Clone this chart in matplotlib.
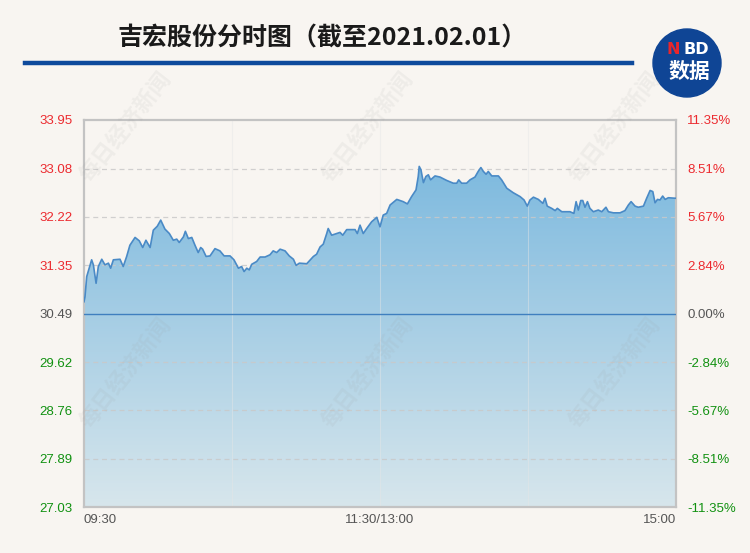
import numpy as np
import matplotlib
matplotlib.use("Agg")
import matplotlib.pyplot as plt
from matplotlib.colors import LinearSegmentedColormap
from matplotlib.patches import Ellipse
from matplotlib.lines import Line2D

# ---------------- data ----------------
title = "吉宏股份分时图（截至2021.02.01）"
prev_close = 30.49
minutes = [0, 0.4, 1.1, 3.1, 3.8, 4.9, 5.8, 7.2, 8.5, 9.9, 10.8, 11.9, 14.6, 15.9, 17.3,
           18.6, 20.7, 22.4, 23.8, 25.1, 26.8, 28.1, 29.7, 31.1, 32.8, 34.6, 36.2, 37.6,
           38.6, 40.3, 41.1, 42.3, 43.7, 45.0, 46.3, 47.3, 48.1, 49.5, 51.1, 53.1, 55.1,
           56.8, 59.2, 60.8, 62.6, 63.9, 64.9, 66.0, 67.0, 68.0, 70.0, 71.4, 73.4, 75.4,
           76.7, 78.1, 79.5, 81.5, 83.2, 84.9, 86.0, 87.3, 90.3, 93.0, 94.3, 95.7, 97.0,
           98.4, 99.0, 100.4, 102.4, 103.8, 104.9, 106.5, 109.9, 110.8, 111.9, 113.2,
           114.6, 116.6, 118.7, 120.0, 121.3, 122.7, 124.1, 126.8, 129.4, 131.1, 132.8,
           134.6, 135.5, 135.9, 136.6, 137.6, 138.6, 139.6, 140.5, 142.3, 144.3, 147.0,
           149.7, 151.1, 151.9, 153.1, 155.1, 156.5, 158.5, 159.8, 160.9, 161.9, 163.0,
           163.9, 165.3, 168.0, 169.3, 171.4, 174.0, 176.8, 178.4, 179.7, 180.8, 182.2,
           184.2, 186.0, 186.9, 187.8, 189.6, 191.0, 191.9, 193.7, 197.0, 198.6, 199.5,
           200.4, 201.4, 202.2, 203.1, 204.1, 205.1, 206.5, 208.5, 209.9, 211.6, 212.6,
           214.6, 217.3, 219.3, 220.7, 221.8, 223.4, 224.7, 226.8, 228.1, 229.5, 230.6,
           231.5, 232.5, 233.5, 234.6, 235.6, 236.9, 240.0]
prices = [30.70, 30.79, 31.15, 31.45, 31.36, 31.03, 31.33, 31.46, 31.36, 31.39, 31.30,
          31.45, 31.46, 31.33, 31.51, 31.71, 31.85, 31.79, 31.67, 31.80, 31.67, 31.98,
          32.05, 32.16, 32.00, 31.92, 31.80, 31.82, 31.76, 31.86, 31.96, 31.83, 31.85,
          31.71, 31.58, 31.67, 31.64, 31.51, 31.52, 31.65, 31.61, 31.52, 31.52, 31.45,
          31.30, 31.33, 31.24, 31.30, 31.27, 31.37, 31.42, 31.50, 31.50, 31.54, 31.61,
          31.58, 31.64, 31.61, 31.52, 31.46, 31.35, 31.39, 31.38, 31.51, 31.55, 31.68,
          31.73, 31.92, 32.01, 31.89, 31.92, 31.94, 31.89, 31.99, 31.99, 31.92, 32.07,
          31.92, 32.01, 32.13, 32.21, 32.04, 32.25, 32.28, 32.43, 32.53, 32.49, 32.45,
          32.58, 32.70, 32.94, 33.12, 33.06, 32.83, 32.94, 32.97, 32.88, 32.95, 32.93,
          32.87, 32.82, 32.82, 32.88, 32.82, 32.82, 32.88, 32.93, 33.03, 33.10, 33.03,
          32.98, 33.03, 32.95, 32.95, 32.88, 32.73, 32.65, 32.58, 32.52, 32.41, 32.52,
          32.57, 32.53, 32.46, 32.55, 32.41, 32.37, 32.33, 32.37, 32.31, 32.31, 32.28,
          32.49, 32.34, 32.51, 32.51, 32.39, 32.49, 32.37, 32.31, 32.34, 32.31, 32.39,
          32.31, 32.29, 32.29, 32.33, 32.43, 32.49, 32.41, 32.39, 32.41, 32.55, 32.69,
          32.67, 32.47, 32.53, 32.52, 32.59, 32.53, 32.56, 32.55]
price_ticks = [33.95, 33.08, 32.22, 31.35, 30.49, 29.62, 28.76, 27.89, 27.03]
price_labels = ["33.95", "33.08", "32.22", "31.35", "30.49", "29.62", "28.76", "27.89", "27.03"]
pct_labels = ["11.35%", "8.51%", "5.67%", "2.84%", "0.00%", "-2.84%", "-5.67%", "-8.51%", "-11.35%"]
x_ticks = [0, 120, 240]
x_labels = ["09:30", "11:30/13:00", "15:00"]
v_grid = [60, 120, 180]
watermark = "每日经济新闻"

# ---------------- style ----------------
BG = "#f8f5f1"
RED = "#ec2a2f"
GREEN = "#119111"
GRAY = "#555555"
plt.rcParams['font.family'] = ['Noto Sans CJK SC', 'DejaVu Sans']

W, H = 750, 553
fig = plt.figure(figsize=(7.5, 5.53), dpi=100, facecolor=BG)
ax = fig.add_axes([84 / W, 1 - 507 / H, (676 - 84) / W, (507 - 120) / H])
ax.set_facecolor(BG)

ymin, ymax = price_ticks[-1], price_ticks[0]
ax.set_xlim(0, 240)
ax.set_ylim(ymin, ymax)

# gradient fill under line
poly = ax.fill_between(minutes, prices, ymin, color='none', lw=0)
cmap = LinearSegmentedColormap.from_list('g', ["#72b4dd", "#d7e6ec"])
grad = np.linspace(0, 1, 256).reshape(-1, 1)
im = ax.imshow(grad, extent=[0, 240, ymin, ymax], aspect='auto', cmap=cmap,
               origin='upper', zorder=1, interpolation='bilinear')
im.set_clip_path(poly.get_paths()[0], transform=ax.transData)

# grid
for v in v_grid:
    ax.axvline(v, color="#e6e6e6", lw=0.8, alpha=0.45, zorder=2)
for t in price_ticks[1:-1]:
    if t == prev_close:
        continue
    ax.axhline(t, color="#c9c9c9", lw=0.9, ls=(0, (4, 3)), alpha=0.85, zorder=2)
ax.axhline(prev_close, color="#3f7fbf", lw=1.0, zorder=3)

ax.plot(minutes, prices, color="#4a8ac6", lw=1.2, zorder=4)

for s in ax.spines.values():
    s.set_color("#c3c3c3")
    s.set_linewidth(1.6)

lab_font = dict(family=['Liberation Sans Narrow', 'Liberation Sans', 'DejaVu Sans'], size=9.5)

def col(v):
    if v > prev_close:
        return RED
    if v < prev_close:
        return GREEN
    return GRAY

ax.set_yticks(price_ticks)
ax.set_yticklabels(price_labels, fontdict=lab_font)
for lab, v in zip(ax.get_yticklabels(), price_ticks):
    lab.set_color(col(v))
ax.tick_params(axis='y', length=0, pad=8)

ax2 = ax.twinx()
ax2.set_ylim(ymin, ymax)
ax2.set_yticks(price_ticks)
ax2.set_yticklabels(pct_labels, fontdict=lab_font)
for lab, v in zip(ax2.get_yticklabels(), price_ticks):
    lab.set_color(col(v))
ax2.tick_params(axis='y', length=0, pad=8)
for s in ax2.spines.values():
    s.set_visible(False)

ax.set_xticks(x_ticks)
ax.set_xticklabels(x_labels, fontdict=lab_font, color=GRAY)
xl = ax.get_xticklabels()
xl[0].set_ha('left')
xl[2].set_ha('right')
ax.tick_params(axis='x', length=0, pad=5)

# title & rule
fig.text(322 / W, 1 - 38 / H, title, ha='center', va='center', fontsize=18,
         fontweight='bold', color="#1a1a1a", family=['Noto Sans CJK SC', 'DejaVu Sans'])
fig.add_artist(Line2D([25 / W, 632 / W], [1 - 63 / H, 1 - 63 / H], color="#0e4a9c",
                      lw=3.2, transform=fig.transFigure))

# logo
fig.add_artist(Ellipse((687 / W, 1 - 63 / H), 68 / W, 68 / H, transform=fig.transFigure,
                       color="#0f4595", zorder=5))
fig.text(673 / W, 1 - 50 / H, "N", ha='center', va='center', fontsize=11.5,
         fontweight='bold', color="#e8262b", family='DejaVu Sans', zorder=6)
fig.text(696 / W, 1 - 50 / H, "BD", ha='center', va='center', fontsize=11.5,
         fontweight='bold', color="white", family='DejaVu Sans', zorder=6)
fig.text(689 / W, 1 - 71 / H, "数据", ha='center', va='center', fontsize=15,
         fontweight='bold', color="white", family=['Noto Sans CJK SC'], zorder=6)

# watermarks
for wx in [126, 368, 615]:
    for wy in [127, 373]:
        fig.text(wx / W, 1 - wy / H, watermark, ha='center', va='center', rotation=52,
                 fontsize=16, fontweight='bold', color="#9a9a9a", alpha=0.10,
                 family=['Noto Sans CJK SC'], zorder=10)

fig.savefig("out.png", dpi=100, facecolor=BG)
